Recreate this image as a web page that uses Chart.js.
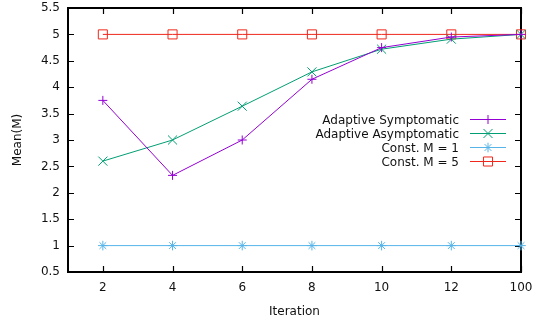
<!DOCTYPE html>
<html><head><meta charset="utf-8">
<script src="https://cdn.jsdelivr.net/npm/chart.js@4"></script>
<style>html,body{margin:0;padding:0;background:#fff}#wrap{width:538px;height:320px}</style>
</head><body><div id="wrap"><canvas id="c" width="538" height="320"></canvas></div>
<script>
const categories = ['2','4','6','8','10','12','100'];
const yTicks = [0.5,1,1.5,2,2.5,3,3.5,4,4.5,5,5.5];
const adaptiveSymptomatic = [3.75,2.33,3.0,4.15,4.75,4.95,5.0];
const adaptiveAsymptomatic = [2.6,3.0,3.64,4.29,4.72,4.91,5.0];
const constM1 = [1,1,1,1,1,1,1];
const constM5 = [5,5,5,5,5,5,5];
const seriesNames = ['Adaptive Symptomatic','Adaptive Asymptomatic','Const. M = 1','Const. M = 5'];

const FONT = '"DejaVu Sans", sans-serif';
const TXT = '#111';
const FRAME = '#000';
const toPts = arr => arr.map((v,i)=>({x:i+1,y:v}));

function mk(label, data, color, style, r){
  return {label, data: toPts(data), borderColor: color, backgroundColor: 'rgba(0,0,0,0)',
    borderWidth: 1, pointStyle: style, pointRadius: r, pointHoverRadius: r,
    pointBorderColor: color, pointBackgroundColor: 'rgba(0,0,0,0)', pointBorderWidth: 1,
    tension: 0, fill: false, clip: false};
}

function drawFrame(chart){
  const ctx = chart.ctx, a = chart.chartArea;
  const xs = chart.scales.x, ys = chart.scales.y;
  const L = Math.round(a.left), R = Math.round(a.right), T = Math.round(a.top), B = Math.round(a.bottom);
  ctx.save();
  ctx.strokeStyle = FRAME; ctx.lineWidth = 2; ctx.lineCap = 'square';
  ctx.beginPath();
  ctx.moveTo(L, T); ctx.lineTo(R, T); ctx.lineTo(R, B); ctx.lineTo(L, B); ctx.closePath();
  ctx.stroke();
  ctx.lineWidth = 1.2; ctx.lineCap = 'butt';
  ctx.beginPath();
  const tl = 6;
  categories.forEach((c,i)=>{
    const px = Math.round(xs.getPixelForValue(i+1))+0.5;
    ctx.moveTo(px, B); ctx.lineTo(px, B-tl);
    ctx.moveTo(px, T); ctx.lineTo(px, T+tl);
  });
  yTicks.forEach(v=>{
    const py = Math.round(ys.getPixelForValue(v))+0.5;
    ctx.moveTo(L, py); ctx.lineTo(L+tl, py);
    ctx.moveTo(R, py); ctx.lineTo(R-tl, py);
  });
  ctx.stroke();
  ctx.restore();
}

function drawMarker(ctx, style, r, x, y){
  if (Chart.helpers && Chart.helpers.drawPoint) {
    Chart.helpers.drawPoint(ctx, {pointStyle: style, radius: r, rotation: 0, borderWidth: 1}, x, y);
  }
}

const gpPlugin = {
  id: 'gpDecor',
  beforeDatasetsDraw(chart){ drawFrame(chart); },
  afterDatasetsDraw(chart){
    const ctx = chart.ctx, a = chart.chartArea;
    const x2 = a.right - 15, x1 = x2 - 36, tx = x1 - 11;
    chart.data.datasets.forEach((ds,i)=>{
      const yy = Math.round(a.top + 111 + i*14) + 0.5;
      ctx.save();
      ctx.fillStyle = TXT; ctx.font = '12px ' + FONT;
      ctx.textAlign = 'right'; ctx.textBaseline = 'alphabetic';
      ctx.fillText(ds.label, tx, yy + 4);
      ctx.strokeStyle = ds.borderColor; ctx.lineWidth = 1;
      ctx.beginPath(); ctx.moveTo(x1, yy); ctx.lineTo(x2, yy); ctx.stroke();
      ctx.fillStyle = 'rgba(0,0,0,0)';
      drawMarker(ctx, ds.pointStyle, ds.pointRadius, (x1+x2)/2, yy);
      ctx.restore();
    });
  }
};

const tickFont = { family: FONT, size: 12 };
const noGrid = { display: false, drawTicks: false };
const noBorder = { display: false };
const gapGrid = len => ({ display: true, drawOnChartArea: false, drawTicks: true, tickLength: len, color: 'rgba(0,0,0,0)' });

new Chart(document.getElementById('c'), {
  type: 'line',
  data: { datasets: [
    mk(seriesNames[0], adaptiveSymptomatic, '#9400d3', 'cross', 4.5),
    mk(seriesNames[1], adaptiveAsymptomatic, '#009e73', 'crossRot', 6.4),
    mk(seriesNames[2], constM1, '#56b4e9', 'star', 4.8),
    mk(seriesNames[3], constM5, '#f0281c', 'rect', 6.4)
  ]},
  options: {
    responsive: false, animation: false,
    layout: { padding: 0 },
    plugins: { legend: { display: false }, tooltip: { enabled: false } },
    scales: {
      x: {
        type: 'linear', min: 0.5, max: 7,
        afterBuildTicks: s => { s.ticks = categories.map((c,i)=>({value:i+1})); },
        afterFit: s => { s.height = 48; },
        ticks: { callback: v => categories[Math.round(v)-1], color: TXT, font: tickFont, padding: 0, maxRotation: 0, autoSkip: false },
        grid: gapGrid(9), border: noBorder,
        title: { display: true, text: 'Iteration', color: TXT, font: tickFont, padding: { top: 2, bottom: 1 } }
      },
      x2: {
        type: 'linear', position: 'top', min: 0.5, max: 7,
        afterFit: s => { s.height = 8; },
        ticks: { display: false }, grid: noGrid, border: noBorder
      },
      y: {
        type: 'linear', min: 0.5, max: 5.5,
        afterBuildTicks: s => { s.ticks = yTicks.map(v=>({value:v})); },
        afterFit: s => { s.width = 68; },
        ticks: { callback: v => String(v), color: TXT, font: tickFont, padding: 0, autoSkip: false },
        grid: gapGrid(8), border: noBorder,
        title: { display: true, text: 'Mean(M)', color: TXT, font: tickFont, padding: { top: 11, bottom: 0 } }
      },
      y2: {
        type: 'linear', position: 'right', min: 0.5, max: 5.5,
        afterFit: s => { s.width = 17; },
        ticks: { display: false }, grid: noGrid, border: noBorder
      }
    }
  },
  plugins: [gpPlugin]
});
</script>
</body></html>
